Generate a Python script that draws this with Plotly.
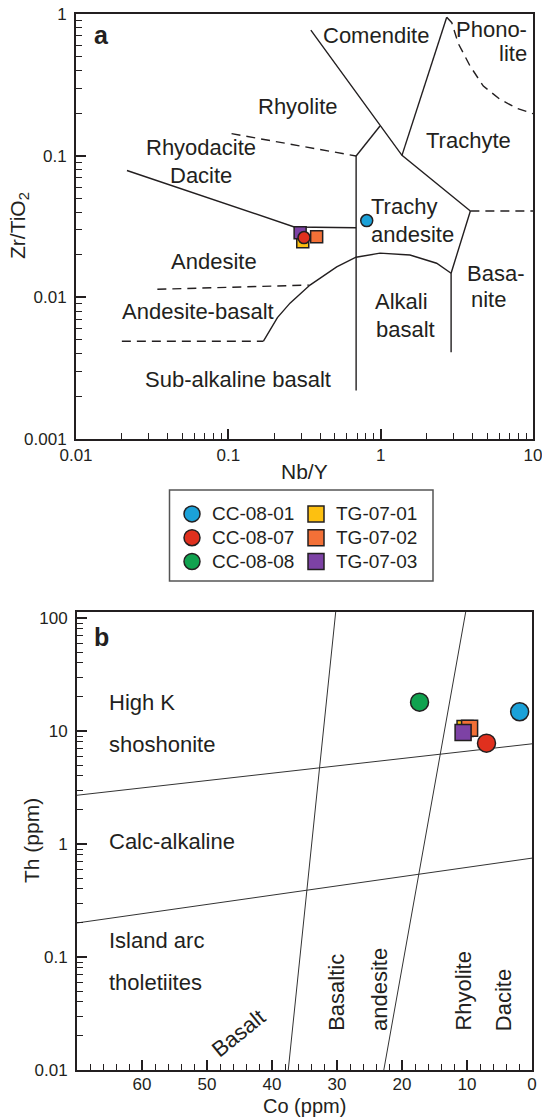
import numpy as np
import plotly.graph_objects as go

W, H = 542, 1119
FONT = "Liberation Sans, Arial, Helvetica, sans-serif"
INK = "#231f20"

# ---------------- sample data ----------------
samples = ["CC-08-01", "CC-08-07", "CC-08-08", "TG-07-01", "TG-07-02", "TG-07-03"]
symbols = ["circle", "circle", "circle", "square", "square", "square"]
colors = ["#1ba1d8", "#e0301e", "#10a24f", "#fdc010", "#f37037", "#7d42a5"]
legend_col = ["legend", "legend", "legend", "legend2", "legend2", "legend2"]
legend_rank = [1, 2, 3, 1, 2, 3]
draw_order = [3, 4, 5, 0, 1, 2]

# panel a: Nb/Y vs Zr/TiO2 (None = not shown)
nb_y = [0.81, 0.314, None, 0.308, 0.380, 0.296]
zr_tio2 = [0.0348, 0.0264, None, 0.0247, 0.0268, 0.0286]

# panel b: Co (ppm) vs Th (ppm)
co_ppm = [1.9, 7.0, 17.3, 10.3, 9.6, 10.6]
th_ppm = [14.8, 7.8, 18.0, 10.5, 10.6, 9.7]

# ---------------- panel a field boundaries (Nb/Y, Zr/TiO2) ----------------
rhyodacite_x = [0.0216, 0.271, 0.69]
rhyodacite_y = [0.0786, 0.0314, 0.031]
vertical_x = [0.69, 0.69]
vertical_y = [0.0022, 0.0995]
rhy_trachy_x = [0.69, 0.99]
rhy_trachy_y = [0.0995, 0.162]
comendite_x = [0.348, 0.99, 1.38, 3.88]
comendite_y = [0.77, 0.162, 0.1005, 0.0407]
trachyte_x = [1.38, 2.714]
trachyte_y = [0.1005, 0.948]
phonolite_x = [2.714, 2.93, 3.23, 3.86, 4.72, 6.07, 7.82, 10]
phonolite_y = [0.948, 0.868, 0.62, 0.43, 0.31, 0.25, 0.216, 0.198]
basanite_top_x = [3.88, 10]
basanite_top_y = [0.0407, 0.0407]
basanite_x = [3.88, 2.9, 2.9]
basanite_y = [0.0407, 0.0148, 0.0041]
alkali_x = [0.17, 0.1877, 0.21, 0.254, 0.3436, 0.5145, 0.689, 0.99, 1.558, 2.33, 2.9]
alkali_y = [0.0049, 0.0059, 0.0072, 0.0091, 0.0122, 0.0164, 0.0192, 0.0205, 0.0199, 0.0174, 0.0148]
rhyolite_dash_x = [0.105, 0.69]
rhyolite_dash_y = [0.143, 0.0995]
andesite_dash_x = [0.0342, 0.34]
andesite_dash_y = [0.0114, 0.0122]
subalk_dash_x = [0.02, 0.17]
subalk_dash_y = [0.0049, 0.0049]

solid_a = [(rhyodacite_x, rhyodacite_y), (vertical_x, vertical_y), (rhy_trachy_x, rhy_trachy_y),
           (comendite_x, comendite_y), (trachyte_x, trachyte_y), (basanite_x, basanite_y),
           (alkali_x, alkali_y)]
dashed_a = [(phonolite_x, phonolite_y), (basanite_top_x, basanite_top_y),
            (rhyolite_dash_x, rhyolite_dash_y), (andesite_dash_x, andesite_dash_y),
            (subalk_dash_x, subalk_dash_y)]

# ---------------- panel b boundaries (Co, Th) ----------------
TH_TOP = 10 ** 2.053
hk_ca_co = [70, 0]
hk_ca_th = [2.7, 7.7]
ca_iat_co = [70, 0]
ca_iat_th = [0.2, 0.75]
basalt_co = [37.5, 30.2]
basalt_th = [0.01, TH_TOP]
rhy_co = [22.8, 10.2]
rhy_th = [0.01, TH_TOP]

# ---------------- labels ----------------
labels_a_text = ["Comendite", "Phono-", "lite", "Rhyolite", "Trachyte", "Rhyodacite", "Dacite",
                 "Trachy", "andesite", "Andesite", "Andesite-basalt", "Sub-alkaline basalt",
                 "Alkali", "basalt", "Basa-", "nite"]
labels_a_x = [0.936, 5.36, 7.35, 0.2826, 3.76, 0.0659, 0.0659, 1.4226, 1.623, 0.0811, 0.0632,
              0.115, 1.38, 1.455, 5.70, 5.14]
labels_a_y = [0.70, 0.78, 0.522, 0.222, 0.1276, 0.1146, 0.0719, 0.0441, 0.02786, 0.01785,
              0.00788, 0.00261, 0.00942, 0.00595, 0.0148, 0.00969]

labels_b_text = ["High K", "shoshonite", "Calc-alkaline", "Island arc", "tholetiites",
                 "Basalt", "Basaltic", "andesite", "Rhyolite", "Dacite"]
labels_b_x = [65.4, 65.4, 65.4, 65.4, 65.4, 45.2, 30.0, 23.5, 10.6, 4.4]
labels_b_y = [17.7, 7.67, 1.05, 0.139, 0.060, 0.021, 0.0482, 0.0513, 0.0495, 0.0418]
labels_b_angle = [0, 0, 0, 0, 0, -39, -90, -90, -90, -90]
labels_b_anchor = ["left", "left", "left", "left", "left", "center", "center", "center", "center", "center"]

fig = go.Figure()

for xs, ys in solid_a:
    fig.add_trace(go.Scatter(x=xs, y=ys, mode="lines", line=dict(color=INK, width=1.4),
                             showlegend=False, hoverinfo="skip", xaxis="x", yaxis="y"))
for xs, ys in dashed_a:
    fig.add_trace(go.Scatter(x=xs, y=ys, mode="lines", line=dict(color=INK, width=1.4, dash="9px,6px"),
                             showlegend=False, hoverinfo="skip", xaxis="x", yaxis="y"))

for xs, ys in [(hk_ca_co, hk_ca_th), (ca_iat_co, ca_iat_th), (basalt_co, basalt_th), (rhy_co, rhy_th)]:
    fig.add_trace(go.Scatter(x=xs, y=ys, mode="lines", line=dict(color="#333333", width=1),
                             showlegend=False, hoverinfo="skip", xaxis="x2", yaxis="y2"))

for i in draw_order:
    if nb_y[i] is not None:
        fig.add_trace(go.Scatter(x=[nb_y[i]], y=[zr_tio2[i]], mode="markers", name=samples[i],
                                 showlegend=False,
                                 marker=dict(symbol=symbols[i], color=colors[i], size=12,
                                             line=dict(color=INK, width=1.5)),
                                 xaxis="x", yaxis="y"))
for i in draw_order:
    fig.add_trace(go.Scatter(x=[co_ppm[i]], y=[th_ppm[i]], mode="markers",
                             name='<span style="font-size:19px">' + samples[i] + "</span>",
                             legend=legend_col[i], legendrank=legend_rank[i], showlegend=True,
                             marker=dict(symbol=symbols[i], color=colors[i],
                                         size=18 if symbols[i] == "circle" else 16,
                                         line=dict(color=INK, width=1.5)),
                             xaxis="x2", yaxis="y2"))

ann = []
for t, x, y in zip(labels_a_text, labels_a_x, labels_a_y):
    ann.append(dict(text=t, x=np.log10(x), y=np.log10(y), xref="x", yref="y", showarrow=False,
                    font=dict(size=22, color=INK, family=FONT)))
for t, x, y, a, xa in zip(labels_b_text, labels_b_x, labels_b_y, labels_b_angle, labels_b_anchor):
    ann.append(dict(text=t, x=x, y=np.log10(y), xref="x2", yref="y2", showarrow=False, textangle=a,
                    xanchor=xa, yanchor="middle", font=dict(size=22, color=INK, family=FONT)))
ann.append(dict(text="<b>a</b>", x=np.log10(0.01466), y=np.log10(0.711), xref="x", yref="y",
                showarrow=False, font=dict(size=25, color=INK, family=FONT)))
ann.append(dict(text="<b>b</b>", x=66.3, y=np.log10(67.9), xref="x2", yref="y2",
                showarrow=False, font=dict(size=25, color=INK, family=FONT)))
# axis titles
title_font = dict(size=21, color=INK, family=FONT)
ann.append(dict(text="Nb/Y", x=304.5 / W, y=1 - 471 / H, xref="paper", yref="paper", showarrow=False,
                xanchor="center", yanchor="middle", font=title_font))
ann.append(dict(text="Zr/TiO<sub>2</sub>", x=19 / W, y=1 - 226 / H, xref="paper", yref="paper",
                showarrow=False, textangle=-90, xanchor="center", yanchor="middle", font=title_font))
ann.append(dict(text="Co (ppm)", x=304.5 / W, y=1 - 1106 / H, xref="paper", yref="paper",
                showarrow=False, xanchor="center", yanchor="middle",
                font=dict(size=20, color=INK, family=FONT)))
ann.append(dict(text="Th (ppm)", x=31 / W, y=1 - 841 / H, xref="paper", yref="paper",
                showarrow=False, textangle=-90, xanchor="center", yanchor="middle", font=title_font))

axis_common = dict(showline=True, mirror=True, linecolor=INK, linewidth=2, ticks="inside",
                   ticklen=10, tickwidth=1.6, tickcolor=INK, showgrid=False, zeroline=False,
                   automargin=False, tickfont=dict(size=17, color=INK, family=FONT),
                   ticklabeloverflow="allow")
minor_log = dict(ticks="inside", ticklen=6, tickwidth=1.4, tickcolor=INK, dtick="D1", showgrid=False)

legend_common = dict(orientation="v", xanchor="left", yanchor="top", borderwidth=0,
                     bgcolor="rgba(0,0,0,0)", font=dict(size=16, color=INK, family=FONT),
                     tracegroupgap=0, itemwidth=30, traceorder="normal")

fig.update_layout(
    width=W, height=H, margin=dict(l=0, r=0, t=0, b=0, autoexpand=False),
    paper_bgcolor="white", plot_bgcolor="white", hovermode=False,
    font=dict(family=FONT, color=INK),
    xaxis=dict(domain=[76 / W, 533 / W], type="log", range=[-2, 1], anchor="y",
               tickvals=[0.01, 0.1, 1, 10], ticktext=["0.01", "0.1", "1", "10"],
               minor=minor_log, ticklabelstandoff=0, **axis_common),
    yaxis=dict(domain=[1 - 439 / H, 1 - 14 / H], type="log", range=[-3, 0], anchor="x",
               tickvals=[0.001, 0.01, 0.1, 1], ticktext=["0.001", "0.01", "0.1", "1"],
               minor=minor_log, ticklabelstandoff=4, **axis_common),
    xaxis2=dict(domain=[77 / W, 532 / W], range=[70, 0], anchor="y2",
                tickvals=[0, 10, 20, 30, 40, 50, 60],
                minor=dict(ticks="inside", ticklen=6, tickwidth=1.4, tickcolor=INK, dtick=2,
                           tick0=0, showgrid=False),
                ticklabelstandoff=-2, **axis_common),
    yaxis2=dict(domain=[1 - 1070 / H, 1 - 612 / H], type="log", range=[-2, 2.053], anchor="x2",
                tickvals=[0.01, 0.1, 1, 10, 100], ticktext=["0.01", "0.1", "1", "10", "100"],
                minor=minor_log, ticklabelstandoff=4, **axis_common),
    legend=dict(x=172 / W, y=1 - 497 / H, **legend_common),
    legend2=dict(x=296 / W, y=1 - 497 / H, **legend_common),
    shapes=[dict(type="rect", xref="paper", yref="paper", x0=169.5 / W, x1=433 / W,
                 y0=1 - 581 / H, y1=1 - 490 / H, line=dict(color="#555555", width=1.5),
                 fillcolor="white", layer="below")],
    annotations=ann,
)

fig.write_html("out.html", config={"displayModeBar": False})
